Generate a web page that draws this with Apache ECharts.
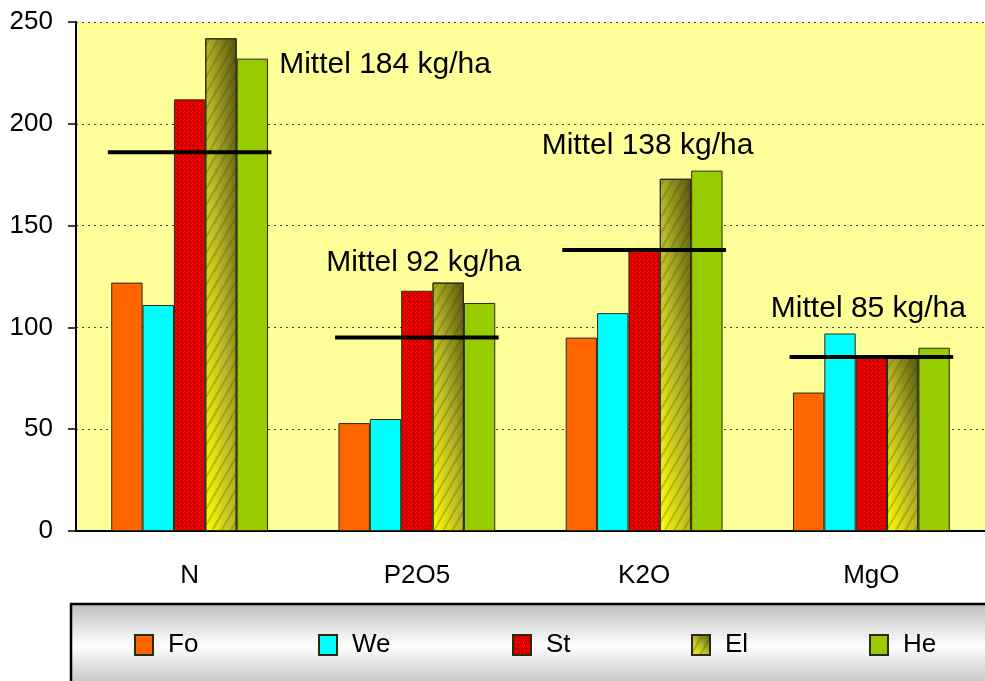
<!DOCTYPE html>
<html>
<head>
<meta charset="utf-8">
<script src="https://cdn.jsdelivr.net/npm/echarts@6/dist/echarts.min.js"></script>
<style>
  html, body { margin: 0; padding: 0; background: #fff; }
  #chart { width: 985px; height: 681px; }
</style>
</head>
<body>
<div id="chart"></div>
<script>
// data
const categories = ['N', 'P2O5', 'K2O', 'MgO']
const seriesNames = ['Fo', 'We', 'St', 'El', 'He']
const fo = [122, 53, 95, 68]
const we = [111, 55, 107, 97]
const st = [212, 118, 139, 85]
const el = [242, 122, 173, 85]
const he = [232, 112, 177, 90]
const meanLine = [186, 95, 138, 85.5]
const meanText = [184, 92, 138, 85]
const yMin = 0
const yMax = 250
const yStep = 50

// layout
const FONT = '"Liberation Sans", Arial, sans-serif'
const GRID = { left: 76, top: 22, width: 911, height: 509 }
const BAR_W = 31.4
const legendLeft = [134, 318, 512, 691, 869]
// label anchor: [offset in category widths, value]
const labelPos = [[0.86, 229], [0.03, 132], [0.015, 189], [-0.013, 109]]

const elStops = [
  { offset: 0, color: '#ffff00' },
  { offset: 0.5, color: '#b6b628' },
  { offset: 1, color: '#55550f' },
]

// diagonal gradient, bright bottom-left to dark top-right of the bar
function diagGradient(h, w) {
  const s = h * h + w * w
  return {
    type: 'linear',
    x: 0,
    y: 1,
    x2: (2 * h * h) / s,
    y2: 1 - (2 * w * w) / s,
    colorStops: elStops,
  }
}

function stPattern() {
  const c = document.createElement('canvas')
  c.width = 4
  c.height = 4
  const g = c.getContext('2d')
  g.fillStyle = '#ff0000'
  g.fillRect(0, 0, 4, 4)
  g.fillStyle = '#990000'
  const dots = [[1, 0], [0, 1], [2, 1], [1, 2], [3, 3]]
  dots.forEach(([x, y]) => g.fillRect(x, y, 1, 1))
  return { image: c, repeat: 'repeat' }
}

const colors = {
  Fo: '#ff6600',
  We: '#00ffff',
  St: stPattern(),
  El: diagGradient(20, 18),
  He: '#99cc00',
}

const pxPerUnit = GRID.height / (yMax - yMin)

const barSeries = [fo, we, st, el, he].map((values, i) => {
  const name = seriesNames[i]
  const s = {
    name,
    type: 'bar',
    barGap: '0%',
    barCategoryGap: '31%',
    itemStyle: {
      color: colors[name],
      borderColor: '#2a2a10',
      borderWidth: 1,
    },
    data: values,
  }
  if (name === 'El') {
    s.data = values.map((v) => ({
      value: v,
      itemStyle: { color: diagGradient(v * pxPerUnit, BAR_W) },
    }))
    s.itemStyle.decal = {
      symbol: 'rect',
      symbolSize: 1,
      color: 'rgba(60, 60, 0, 0.25)',
      dashArrayX: [1, 0],
      dashArrayY: [2, 6],
      rotation: -Math.PI / 3,
    }
  }
  return s
})

const meanSeries = {
  type: 'custom',
  name: 'Mittel',
  silent: true,
  z: 5,
  data: meanLine.map((v, i) => [i, v]),
  renderItem(params, api) {
    const p = api.coord([api.value(0), api.value(1)])
    const half = api.size([1, 0])[0] * 0.36
    return {
      type: 'line',
      shape: { x1: p[0] - half, y1: p[1], x2: p[0] + half, y2: p[1] },
      style: { stroke: '#000', lineWidth: 4 },
    }
  },
}

const labelSeries = {
  type: 'custom',
  name: 'MittelText',
  silent: true,
  z: 6,
  data: meanText.map((v, i) => [i, labelPos[i][1], v]),
  renderItem(params, api) {
    const i = params.dataIndex
    const p = api.coord([api.value(0), api.value(1)])
    const band = api.size([1, 0])[0]
    return {
      type: 'text',
      x: p[0] + labelPos[i][0] * band,
      y: p[1],
      style: {
        text: 'Mittel ' + api.value(2) + ' kg/ha',
        fontSize: 30,
        fontFamily: FONT,
        fill: '#000',
        align: 'center',
        verticalAlign: 'middle',
      },
    }
  },
}

const chart = echarts.init(document.getElementById('chart'))

chart.setOption({
  backgroundColor: '#fff',
  animation: false,
  grid: {
    left: GRID.left,
    top: GRID.top,
    width: GRID.width,
    height: GRID.height,
    show: true,
    backgroundColor: '#ffff99',
    borderWidth: 0,
  },
  graphic: [
    {
      type: 'rect',
      z: 0,
      shape: { x: 71, y: 604, width: 940, height: 84 },
      style: {
        fill: {
          type: 'linear',
          x: 0,
          y: 0,
          x2: 0,
          y2: 1,
          colorStops: [
            { offset: 0, color: '#bcbcbc' },
            { offset: 0.5, color: '#ffffff' },
            { offset: 1, color: '#bcbcbc' },
          ],
        },
        stroke: '#000',
        lineWidth: 2.5,
      },
    },
  ],
  legend: seriesNames.map((name, i) => ({
    data: [name],
    left: legendLeft[i],
    top: 632,
    padding: 0,
    itemWidth: 18,
    itemHeight: 20,
    icon: 'rect',
    selectedMode: false,
    textStyle: {
      fontSize: 26,
      fontFamily: FONT,
      color: '#000',
      lineHeight: 26,
      padding: [0, 0, 0, 10],
    },
  })),
  xAxis: {
    type: 'category',
    data: categories,
    axisLine: { lineStyle: { color: '#000', width: 2 } },
    axisTick: { length: 10, lineStyle: { color: '#000', width: 1.5 } },
    axisLabel: {
      fontSize: 26,
      fontFamily: FONT,
      color: '#000',
      margin: 32,
    },
  },
  yAxis: {
    type: 'value',
    min: yMin,
    max: yMax,
    interval: yStep,
    axisLine: { show: true, lineStyle: { color: '#000', width: 2 } },
    axisTick: { show: true, length: 8, lineStyle: { color: '#000', width: 1.5 } },
    axisLabel: {
      fontSize: 26,
      fontFamily: FONT,
      color: '#000',
      margin: 23,
    },
    splitLine: {
      show: true,
      lineStyle: { color: '#444', width: 1, type: [2, 4] },
    },
  },
  series: [...barSeries, meanSeries, labelSeries],
})
</script>
</body>
</html>
